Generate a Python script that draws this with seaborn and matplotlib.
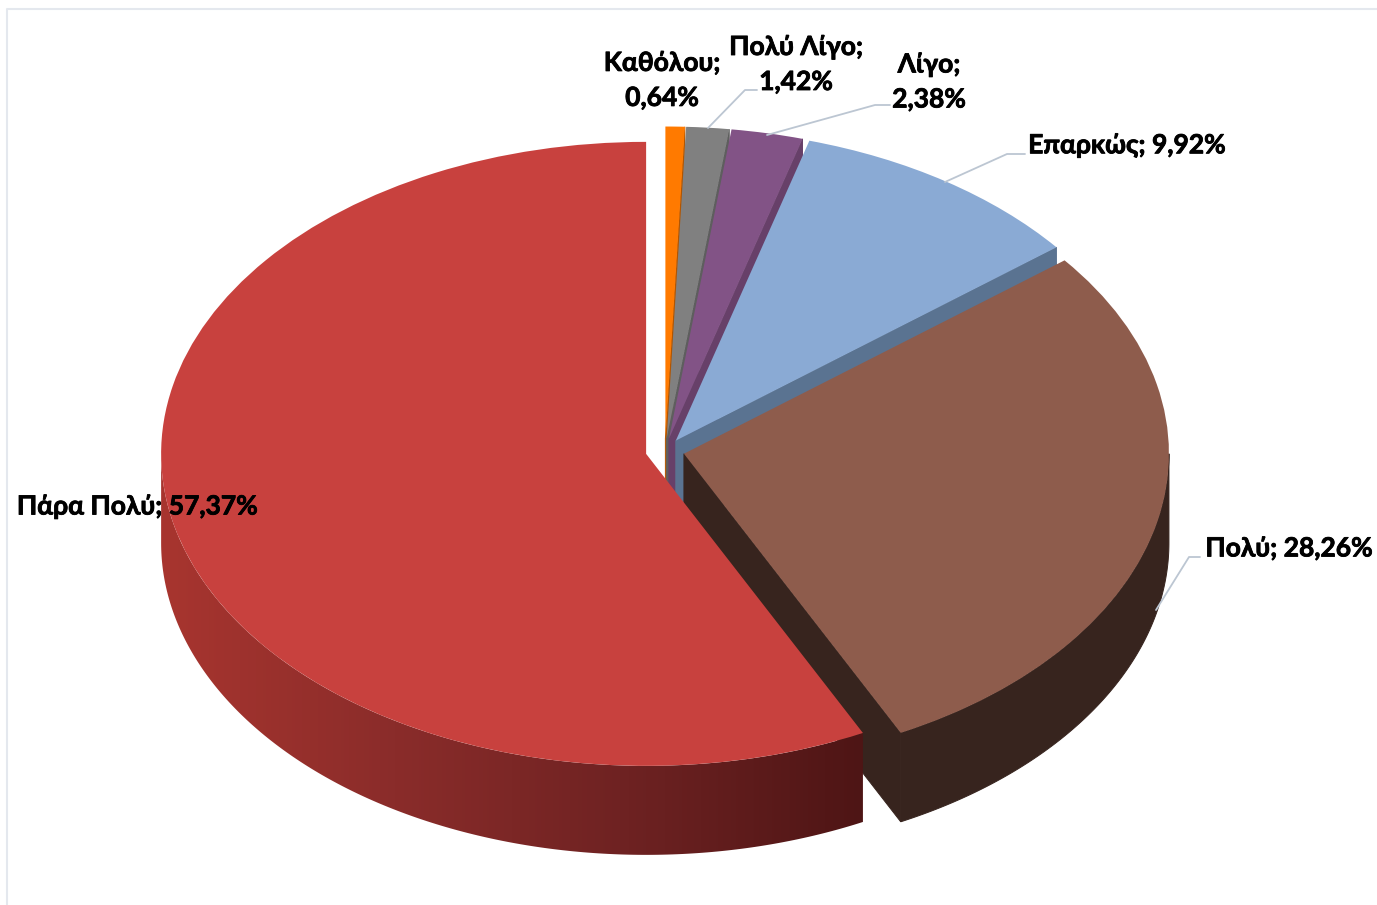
import numpy as np
import matplotlib
matplotlib.use("Agg")
import matplotlib.pyplot as plt
import matplotlib.patheffects as pe
from matplotlib.lines import Line2D
from matplotlib.patches import Polygon
import seaborn as sns

# ---- data
categories = ["Καθόλου", "Πολύ Λίγο", "Λίγο", "Επαρκώς", "Πολύ", "Πάρα Πολύ"]
percent_values = [0.64, 1.42, 2.38, 9.92, 28.26, 57.37]
percent_labels = ["0,64%", "1,42%", "2,38%", "9,92%", "28,26%", "57,37%"]

# ---- styles
top_colors = ["#FF7A00", "#808080", "#825386", "#8AAAD4", "#8E5C4C", "#C8413E"]
side_colors = ["#B25500", "#5E5E5E", "#674069", "#5A7391", "#37241E", None]
red_side_ramp = ["#A8352F", "#8A2C2A", "#6E2222", "#4E1515"]
frame_color = "#E4E8EE"
leader_color = "#BCC6D2"

W, H = 1377, 905
CX, CY, RX, RY, DEPTH = 665, 451, 485, 312, 89
EXPLODE = 0.04

# label text per category: centre x, top-line centre y, two-line flag (pixels)
label_pos = [(662, 62, True), (796, 46, True), (929, 64, True),
             (1127, 145, False), (1289, 548, False), (137, 506, False)]
leader_paths = [None,
                [(757, 90), (745, 90), (708, 128)],
                [(890, 105), (875, 105), (767, 135)],
                [(1025, 154), (1007, 154), (945, 182)],
                [(1200, 557), (1189, 557), (1156, 610)],
                None]

sns.set_theme(style="white")
plt.rcParams["font.family"] = ["Lato", "Noto Sans", "DejaVu Sans"]

fig = plt.figure(figsize=(W / 100, H / 100), dpi=100, facecolor="white")
ax = fig.add_axes([0, 0, 1, 1])

wedges, _ = ax.pie(percent_values, colors=top_colors, startangle=90,
                   counterclock=False, explode=[EXPLODE] * len(percent_values),
                   radius=1, wedgeprops={"linewidth": 0})
ax.set_aspect("auto")

depth = DEPTH / RY
ramp = sns.blend_palette(red_side_ramp, as_cmap=True)


def arc(c, t0, t1, n=200):
    t = np.radians(np.linspace(t0, t1, n))
    return np.column_stack([c[0] + np.cos(t), c[1] + np.sin(t)])


for i, w in enumerate(wedges):
    w.set_zorder(2 * i + 2)
    z = 2 * i + 1
    c = w.center
    # outer rim: only the front half of the ellipse faces the viewer
    lo, hi = max(w.theta1, -180), min(w.theta2, 0)
    if hi > lo:
        a = arc(c, lo, hi)
        rim = np.vstack([a, a[::-1] - [0, depth]])
        if side_colors[i] is None:
            poly = Polygon(rim, closed=True, facecolor="none", edgecolor="none",
                           transform=ax.transData)
            ax.add_patch(poly)
            x0, x1 = rim[:, 0].min(), rim[:, 0].max()
            y0, y1 = rim[:, 1].min(), rim[:, 1].max()
            im = ax.imshow(np.linspace(0, 1, 256)[None, :], cmap=ramp, vmin=0, vmax=1,
                           extent=[x0, x1, y0, y1], aspect="auto", zorder=z)
            im.set_clip_path(poly)
        else:
            ax.add_patch(Polygon(rim, closed=True, facecolor=side_colors[i],
                                 edgecolor=side_colors[i], lw=0.7, zorder=z))
    # cut face at the clockwise end of the slice
    t = np.radians(w.theta1)
    if np.cos(t) > 1e-6:
        e = (c[0] + np.cos(t), c[1] + np.sin(t))
        face = [c, e, (e[0], e[1] - depth), (c[0], c[1] - depth)]
        color = side_colors[i]
        ax.add_patch(Polygon(face, closed=True, facecolor=color, edgecolor=color,
                             lw=0.7, zorder=z))

ax.set_xlim(-CX / RX, (W - CX) / RX)
ax.set_ylim((CY - H) / RY, CY / RY)
ax.set_axis_off()


def fx(p):
    return p[0] / W, 1 - p[1] / H


for cat, pct, (x, y, two), path in zip(categories, percent_labels, label_pos, leader_paths):
    if path is not None:
        xs, ys = zip(*[fx(p) for p in path])
        fig.add_artist(Line2D(xs, ys, color=leader_color, lw=1.3, zorder=30))
    text = f"{cat};\n{pct}" if two else f"{cat}; {pct}"
    label = fig.text(*fx((x, y + 18 if two else y)), text, ha="center", va="center",
                     fontsize=19, fontweight="bold", color="black", linespacing=1.55,
                     zorder=40)
    label.set_path_effects([pe.withStroke(linewidth=0.6, foreground="black")])

# faint chart-area border
fig.add_artist(Line2D([6.5 / W, 6.5 / W, 1], [0, 1 - 9.5 / H, 1 - 9.5 / H],
                      color=frame_color, lw=1.5, zorder=0))

fig.savefig("out.png", dpi=100, facecolor="white")
